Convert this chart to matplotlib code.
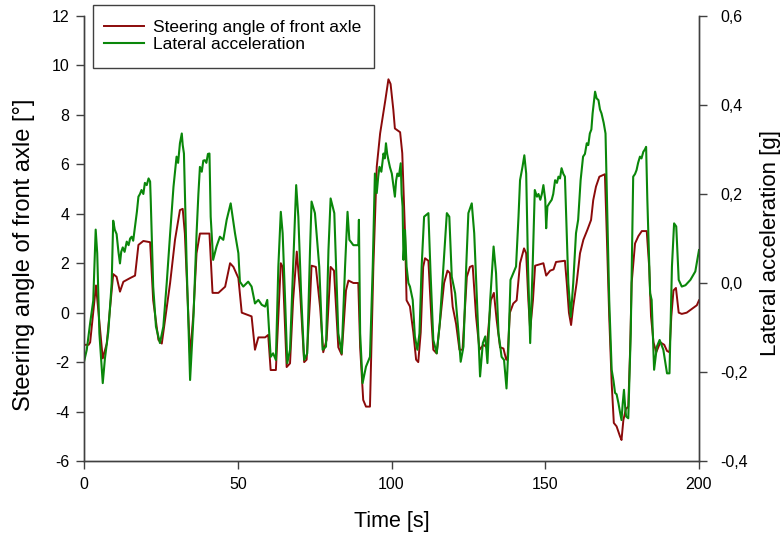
import matplotlib
matplotlib.use("Agg")
import matplotlib.pyplot as plt
from matplotlib.ticker import FuncFormatter
from matplotlib.patches import Rectangle

plt.rcParams['font.family'] = ['Liberation Sans', 'DejaVu Sans']

# Steering angle of front axle [deg]
t_steer = [0, 1.5, 2, 3.9, 6.1, 7.4, 9.5, 10.6, 11.7, 12.8, 15, 16.6, 17.7, 19.3, 21.5, 22.5,
           24.2, 25.3, 28, 29.6, 31.2, 32.1, 32.8, 34.5, 35.6, 36.6, 37.7, 40.8, 41.8, 43.7,
           45.9, 47.5, 48.6, 50.2, 51.3, 54.5, 55.6, 56.7, 58.9, 59.9, 60.7, 62.4, 64, 64.6,
           65.9, 67, 68, 69.2, 70.3, 71.6, 72.4, 73.5, 74, 75.4, 76.8, 77.8, 78.9, 80.2, 81.3,
           82.7, 83.8, 85.2, 86, 87.6, 89.2, 89.8, 90.8, 91.7, 93, 94.1, 95.2, 96.3, 98, 99,
           99.7, 100.6, 101.1, 102.8, 103.5, 104.4, 104.9, 106, 107.1, 108, 108.7, 109.5,
           110.3, 110.9, 112, 113, 113.6, 114.7, 115.7, 117.1, 118.2, 119, 119.9, 121, 122.1,
           123.1, 124.5, 125.5, 126.4, 127.5, 128.6, 129.9, 131, 132.3, 133.3, 134.2, 135.3,
           136.4, 137.3, 137.7, 138.5, 139.6, 140.7, 141.8, 143.1, 143.8, 144.5, 145.1, 146,
           146.7, 149.4, 150.3, 151.6, 152.7, 153.5, 156.4, 157, 157.7, 158.4, 159.1, 160.2,
           161.3, 162.4, 163.7, 164.9, 165.6, 166.5, 167.6, 169.4, 170, 170.8, 171.6, 172.3,
           173.2, 174.3, 174.8, 175.4, 176.2, 177, 177.6, 178.1, 179.2, 180.3, 181.4, 183,
           183.8, 184.4, 185.2, 186.1, 187.4, 188.7, 189.6, 190.4, 191, 191.7, 192.5, 193.4,
           194.4, 196, 198.2, 199.3, 200]
steer = [-1.3, -1.3, -1.2, 1.1, -1.85, -1.25, 1.56, 1.45, 0.85, 1.25, 1.4, 1.5, 2.74, 2.9, 2.85, 0.5,
         -1.1, -1.25, 1.2, 2.95, 4.15, 4.2, 3.2, -1.78, 0.0, 2.4, 3.2, 3.2, 0.8, 0.8,
         1.05, 2.0, 1.85, 1.4, 0.0, -0.15, -1.5, -1.0, -1.0, -0.9, -2.32, -2.32, 2.0, 1.85,
         -2.2, -2.05, 0.5, 2.47, 0.8, -2.0, -1.9, 0.5, 1.9, 1.85, 0.2, -1.6, -1.1, 1.85, 1.7,
         -1.4, -1.7, 0.9, 1.3, 1.2, 1.2, -1.4, -3.53, -3.8, -3.8, 1.85, 5.9, 7.25, 8.6, 9.44,
         9.25, 8.2, 7.45, 7.3, 6.45, 3.2, 0.5, 0.25, -0.8, -1.9, -2.0, -0.8,
         1.85, 2.2, 2.1, -0.3, -1.5, -1.65, -0.45, 1.2, 1.7, 1.6, 0.24, -0.45, -1.5,
         -1.5, 1.45, 1.85, 1.9, -0.15, -1.5, -1.3, -1.4, 0.5, 0.8, -0.3, -1.4,
         -1.45, -1.9, -1.9, 0.0, 0.37, 0.5, 2.0, 2.6, 2.4, 0.5, -0.7, 0.5,
         1.9, 2.0, 1.5, 1.7, 1.75, 2.05, 2.1, 1.2, 0.0, -0.5, 0.25, 1.2,
         2.4, 2.95, 3.35, 3.75, 4.55, 5.1, 5.5, 5.6, 3.2, -0.15, -2.85, -4.46,
         -4.6, -5.0, -5.15, -4.35, -3.9, -3.8, -1.5, 1.2, 2.8, 3.1, 3.3, 3.3,
         1.85, -0.15, -1.2, -1.6, -1.2, -1.3, -1.55, -1.6, -0.15, 0.9, 1.0, 0.0,
         -0.05, 0.0, 0.2, 0.3, 0.5]

# Lateral acceleration [g]
t_lat = [0, 0.9, 2, 3, 3.8, 4.3, 5, 6.1, 6.8, 7.9, 9,
         9.5, 10.0, 10.6, 11.2, 11.7, 12.1, 12.6, 13.2, 13.9, 14.5, 15.0, 15.5, 16.0, 16.6, 17.2,
         17.7, 18.2, 18.7, 19.3, 19.8, 20.4, 21.0, 21.5,
         21.7, 22.5, 23.4, 24.7, 25.8, 26.9, 28, 29.1, 29.6, 30.1, 30.6, 31.2, 31.8, 32.1, 32.5,
         33.4, 34.5, 35.6, 36.6,
         37.2, 37.7, 38.3, 38.8, 39.3, 39.8, 40.3, 40.8, 41.2, 42, 43.1, 44.2, 45.3, 46.4, 47.7,
         49.1, 50.2,
         50.7, 51.8, 53.4, 54.5, 55.6, 56.7, 57.8, 58.9, 59.6, 60.7, 61.5, 62.4, 63.2, 64, 64.6,
         65.4, 66.1, 67, 68, 69, 69.7, 70.6, 71.6, 72.6, 73.5, 74, 75.1, 76.5, 77.6, 78.7, 79.5,
         80.2, 81.4, 82.7, 83.8, 84.9, 85.7, 86.3, 87.6, 89.2, 89.4, 89.8, 90.6, 91.7, 93, 93.9,
         94.6, 95.2, 95.7, 96.1, 96.7, 97.4, 97.8, 98.2, 98.6, 99, 99.5, 100.1, 100.6, 101.1,
         101.5, 101.9, 102.4, 103, 103.3, 103.6, 103.9, 104.4, 104.9, 105.5, 106,
         106.9, 107.6, 108.4, 109.1, 109.8, 110.6, 112, 112.7, 113.6, 114.7, 115.7, 116.9, 118,
         118.8, 119.6, 120.7, 121.8, 122.5, 123.4, 124.3, 125, 126.1, 126.9, 127.8, 128.8,
         129.7, 130.5, 131.2, 132.1, 133.2, 134, 134.8, 135.8, 136.6, 137.4, 138, 138.7, 139.6,
         140.5, 141.3, 141.8, 142.6, 143.2, 143.8, 144.4, 145.1, 145.9,
         146.6, 147.3, 147.8, 148.4, 148.9, 149.4, 150, 150.3, 150.7, 151.4, 152.1, 152.6, 153.2,
         153.8, 154.3, 154.8, 155.3, 155.9, 156.4, 157, 157.5, 158.3, 159.1, 160, 160.7,
         161.5, 162.3, 162.9, 163.5, 164.0, 164.5, 165.0, 165.4, 166.2, 166.7, 167.3, 167.8,
         168.3, 169.0, 169.6, 170.2, 170.8, 171.6, 172.2, 172.7, 173.2, 173.8, 174.3, 174.8,
         175.2, 175.6, 176.0, 176.3, 177, 177.8,
         178.6, 179.2, 179.7, 180.2, 180.8, 181.3, 181.9, 182.4, 182.8, 183.2, 184.1, 184.6,
         185.4, 186.3, 187.2, 188.4, 189.6, 190.4, 191.2, 191.9, 192.6, 193.4, 194.4, 195.6,
         197.2, 198.8, 200]
lat = [-0.177, -0.15, -0.09, -0.04, 0.12, 0.067, -0.113, -0.225, -0.17, -0.11, 0.0,
       0.14, 0.12, 0.11, 0.07, 0.044, 0.07, 0.08, 0.07, 0.093, 0.085, 0.1, 0.104, 0.095, 0.127, 0.16,
       0.194, 0.2, 0.209, 0.2, 0.225, 0.22, 0.235, 0.228,
       0.187, -0.008, -0.098, -0.135, -0.098, 0.0, 0.11, 0.216, 0.25, 0.284, 0.27, 0.314, 0.336,
       0.31, 0.291, 0.037, -0.218, -0.076, 0.11,
       0.2, 0.261, 0.25, 0.275, 0.276, 0.27, 0.29, 0.291, 0.149, 0.052, 0.082, 0.104, 0.097,
       0.142, 0.179, 0.112, 0.067,
       0.003, -0.008, 0.003, -0.008, -0.046, -0.038, -0.049, -0.053, -0.038, -0.166, -0.158,
       -0.173, 0.037, 0.16, 0.112, -0.038, -0.18, -0.15, 0.037, 0.22, 0.149, -0.023, -0.173,
       -0.158, 0.074, 0.183, 0.157, 0.037, -0.15, -0.143, 0.074, 0.19, 0.157, -0.113, -0.158,
       0.037, 0.16, 0.097, 0.085, 0.085, 0.142, -0.113, -0.225, -0.188, -0.166, 0.037,
       0.246, 0.202, 0.24, 0.261, 0.25, 0.291, 0.28, 0.314, 0.29, 0.276, 0.26, 0.246, 0.22,
       0.194, 0.23, 0.246, 0.24, 0.269, 0.2, 0.172, 0.052, 0.119, 0.037, 0.0, -0.008,
       -0.038, -0.12, -0.15, -0.113, 0.037, 0.149, 0.157, 0.022, -0.128, -0.158, -0.09, 0.037,
       0.157, 0.149, 0.014, -0.023, -0.113, -0.177, -0.143, 0.037, 0.157, 0.179, 0.112, -0.038,
       -0.21, -0.135, -0.12, -0.18, -0.038, 0.082, 0.022, -0.113, -0.166, -0.173, -0.237, -0.15,
       0.007, 0.022, 0.037, 0.149, 0.231, 0.261, 0.287, 0.246, 0.037, -0.135, 0.037,
       0.209, 0.194, 0.2, 0.187, 0.2, 0.22, 0.187, 0.123, 0.172, 0.18, 0.187, 0.2, 0.231, 0.225,
       0.239, 0.235, 0.258, 0.245, 0.239, 0.112, 0.0, -0.076, 0.0, 0.112, 0.142,
       0.231, 0.284, 0.29, 0.314, 0.31, 0.336, 0.345, 0.381, 0.43, 0.415, 0.411, 0.39, 0.381,
       0.36, 0.336, 0.149, -0.038, -0.195, -0.22, -0.247, -0.25, -0.27, -0.29, -0.308, -0.27,
       -0.24, -0.28, -0.3, -0.304, -0.113,
       0.239, 0.245, 0.254, 0.27, 0.284, 0.28, 0.295, 0.3, 0.306, 0.187, -0.023, -0.038,
       -0.195, -0.143, -0.128, -0.15, -0.203, -0.203, 0.037, 0.134, 0.127, 0.007, -0.008,
       -0.005, 0.007, 0.026, 0.074]

left_ticks = [-6, -4, -2, 0, 2, 4, 6, 8, 10, 12]
right_ticks = [-0.4, -0.2, 0.0, 0.2, 0.4, 0.6]
x_ticks = [0, 50, 100, 150, 200]

red = '#8b0a0a'
green = '#0a870a'
axis_col = '#404040'

W, H = 783, 536
fig = plt.figure(figsize=(W / 100, H / 100), dpi=100)
ax = fig.add_axes([84 / W, 1 - 461 / H, 615 / W, 445 / H])
ax2 = ax.twinx()

l1, = ax.plot(t_steer, steer, color=red, lw=1.4, label='Steering angle of front axle')
l2, = ax2.plot(t_lat, lat, color=green, lw=1.5, label='Lateral acceleration')

ax.set_xlim(0, 200)
ax.set_ylim(-6, 12)
ax2.set_ylim(-0.4, 0.6)
ax.set_xticks(x_ticks)
ax.set_yticks(left_ticks)
ax2.set_yticks(right_ticks)
ax2.yaxis.set_major_formatter(FuncFormatter(lambda v, p: f"{v:.1f}".replace('.', ',').replace('-0,0', '0,0')))
ax.yaxis.set_major_formatter(FuncFormatter(lambda v, p: f"{int(round(v))}"))
ax.xaxis.set_major_formatter(FuncFormatter(lambda v, p: f"{int(round(v))}"))

for a in (ax, ax2):
    a.spines['top'].set_visible(False)
    for s in ('left', 'right', 'bottom'):
        a.spines[s].set_color(axis_col)
        a.spines[s].set_linewidth(1.0)
    a.tick_params(direction='out', length=5.5, width=1.0, color=axis_col, labelsize=11.5,
                  labelcolor='black')

ax.tick_params(axis='x', pad=6)
ax.tick_params(axis='y', pad=5)
ax2.tick_params(axis='y', pad=10)

ax.set_xlabel('Time [s]', fontsize=15.5, va='center')
ax.xaxis.set_label_coords(0.5, -0.135)
ax.set_ylabel('Steering angle of front axle [°]', fontsize=17, va='center')
ax.yaxis.set_label_coords(-0.0976, 0.463)
ax2.set_ylabel('Lateral acceleration [g]', fontsize=16, va='center')
ax2.yaxis.set_label_coords(1.116, 0.489)

# legend box
fig.patches.append(Rectangle((93 / W, 1 - 68 / H), 281 / W, 63 / H, transform=fig.transFigure,
                             fill=True, facecolor='white', edgecolor=axis_col, lw=1.0, zorder=5))
leg = fig.legend(handles=[l1, l2], loc='upper left', bbox_to_anchor=(104 / W, 1 - 20 / H),
                 fontsize=12.5, frameon=False, handlelength=2.3, handletextpad=0.55,
                 borderpad=0, labelspacing=0.12, borderaxespad=0)
leg.set_zorder(6)

fig.savefig('out.png', dpi=100)
